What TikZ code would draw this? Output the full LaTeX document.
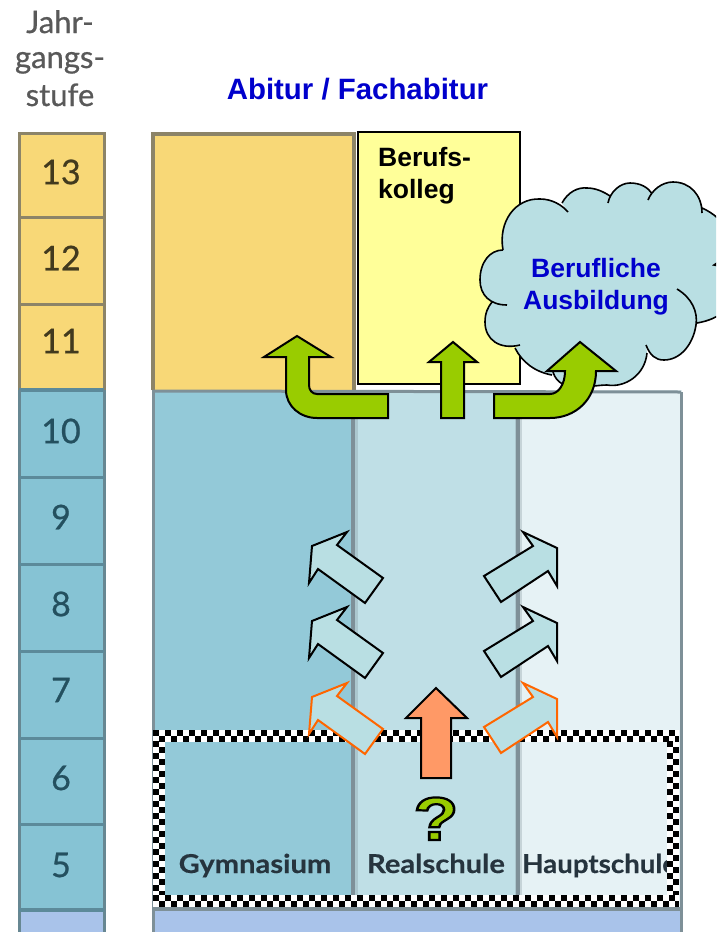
\documentclass[tikz,border=0pt]{standalone}
\usepackage{fontspec}
\setmainfont{Liberation Sans}
\newfontfamily\scanfont[FakeBold=0.7]{Lato}
\newfontfamily\schoolfont[FakeBold=0.4]{Lato Bold}
\definecolor{gold}{HTML}{F8D877}
\definecolor{goldedge}{HTML}{8C8468}
\definecolor{gymblue}{HTML}{93C9D8}
\definecolor{stepblue}{HTML}{86C3D4}
\definecolor{stepedge}{HTML}{5C8A9A}
\definecolor{realblue}{HTML}{BFDFE6}
\definecolor{hauptblue}{HTML}{E6F2F5}
\definecolor{baseblue}{HTML}{A9C3EA}
\definecolor{panelgrey}{HTML}{7E9098}
\definecolor{kolleg}{HTML}{FFFF99}
\definecolor{cloudfill}{HTML}{B9DFE3}
\definecolor{headblue}{HTML}{0000CC}
\definecolor{leaf}{HTML}{99CC00}
\definecolor{orangeedge}{HTML}{FF6600}
\definecolor{orangefill}{HTML}{FF9966}
\definecolor{gradeink}{HTML}{24505F}
\definecolor{goldink}{HTML}{423A1E}
\definecolor{labelink}{HTML}{26343E}
\newcommand{\sz}[1]{\fontsize{#1}{#1}\selectfont}
\tikzset{
  x=1pt,y=-1pt,
  grade/.style={font=\scanfont\sz{34},anchor=center,inner sep=0pt},
  school/.style={font=\schoolfont\sz{26},text=labelink,anchor=base,inner sep=0pt,xscale=1.12},
  yearhead/.style={font=\scanfont\sz{31},text=black!65,anchor=base,inner sep=0pt},
  greenarrow/.style={draw=black,fill=leaf,line width=2pt,line join=miter},
  lightarrow/.style={draw=black,fill=cloudfill,line width=2pt,line join=miter},
  warnarrow/.style={draw=orangeedge,fill=cloudfill,line width=2pt,line join=miter},
  checkrow/.style={line width=6pt,dash pattern=on 6pt off 6pt,black},
  softline/.style={draw=panelgrey,line width=3.5pt},
  softhalo/.style={draw=panelgrey,line width=7pt,opacity=.3},
}
\newcommand{\leftlight}[1]{(383,578+#1) -- (365,603+#1) -- (318,569+#1) -- (309,583+#1) -- (312,546+#1) -- (347,532+#1) -- (337,545+#1) -- cycle}
\newcommand{\rightlight}[1]{(484,576+#1) -- (501,602+#1) -- (548,571+#1) -- (557,586+#1) -- (557,548+#1) -- (523,532+#1) -- (533,546+#1) -- cycle}
\begin{document}
\begin{tikzpicture}
\clip (0,0) rectangle (716,932);
\fill[white] (0,0) rectangle (716,932);
% year column
\fill[gold] (18,132) rectangle (104,390);
\fill[stepblue] (18,390) rectangle (104,910);
\fill[baseblue] (18,910) rectangle (104,932);
\draw[goldedge,line width=3pt] (104,390) -- (104,133) -- (19,133) -- (19,390);
\draw[goldedge,line width=3pt] (19,217) -- (104,217) (19,304) -- (104,304);
\draw[stepedge,line width=3.5pt] (19,390) -- (104,390);
\draw[stepedge!70!gray,line width=3pt] (19,390) -- (19,932) (104,390) -- (104,932);
\foreach \yy in {477,564,651,738,824} \draw[stepedge,line width=3pt] (19,\yy) -- (104,\yy);
\draw[stepedge,line width=3.5pt] (19,910) -- (104,910);
% main panels
\fill[gold] (152,132) rectangle (355,390);
\fill[gymblue] (152,390) rectangle (354,910);
\fill[realblue] (354,390) rectangle (518,910);
\fill[hauptblue] (518,390) rectangle (682,910);
\fill[baseblue] (152,910) rectangle (682,932);
\draw[goldedge,line width=4pt] (153,390) -- (153,134) -- (354,134) -- (354,390);
\draw[softhalo] (354,390) -- (354,910) (518,392) -- (518,910);
\draw[softline] (353,390) -- (353,910) (518,392) -- (518,910);
\draw[panelgrey,line width=3pt] (153,390) -- (153,932) (681,392) -- (681,932);
\draw[panelgrey,line width=3pt] (153,391) -- (681,392);
\draw[panelgrey,line width=4pt] (153,909) -- (681,909);
% school names, partly under the dotted frame
\node[school] (gym) at (255,873) {Gymnasium};
\node[school] (real) at (436,873) {Realschule};
\node[school,anchor=base west,xscale=.95] (haupt) at (522,873) {Hauptschule};
% year labels
\node[yearhead] (j1) at (60,33) {Jahr-};
\node[yearhead] (j2) at (60,68) {gangs-};
\node[yearhead] (j3) at (60,106) {stufe};
\node[grade,text=goldink] (g13) at (61,172) {13};
\node[grade,text=goldink] (g12) at (61,258) {12};
\node[grade,text=goldink] (g11) at (61,341) {11};
\node[grade,text=gradeink] (g10) at (61,431) {10};
\node[grade,text=gradeink] (g9) at (61,517) {9};
\node[grade,text=gradeink] (g8) at (61,604) {8};
\node[grade,text=gradeink] (g7) at (61,690) {7};
\node[grade,text=gradeink] (g6) at (61,778) {6};
\node[grade,text=gradeink] (g5) at (61,865) {5};
% heading
\node[font=\bfseries\sz{29.4},text=headblue,anchor=base,inner sep=0pt] (abi) at (357.5,99) {Abitur / Fachabitur};
% Berufskolleg
\draw[black,fill=kolleg,line width=2pt] (358,132) rectangle (520,384);
\node[font=\bfseries\sz{26.5},anchor=base west,inner sep=0pt] (bk1) at (378,166) {Berufs-};
\node[font=\bfseries\sz{26.5},anchor=base west,inner sep=0pt] (bk2) at (378,198) {kolleg};
% cloud
\fill[cloudfill]
  (503,250) .. controls (498,222) and (515,198) .. (540,199) .. controls (552,199) and (562,205) .. (568,212)
  -- (562,203) .. controls (568,192) and (578,187) .. (587,188) .. controls (596,188) and (604,192) .. (610,196)
  -- (608,203) .. controls (610,192) and (620,183) .. (630,183) .. controls (640,183) and (648,187) .. (652,194)
  -- (648,200) .. controls (652,190) and (662,182) .. (673,182) .. controls (690,182) and (702,195) .. (702,213)
  -- (702,208) .. controls (725,218) and (745,245) .. (714,265)
  .. controls (745,270) and (745,315) .. (697,323)
  -- (677,289) .. controls (692,298) and (698,312) .. (696,325) .. controls (693,345) and (680,360) .. (664,360) .. controls (655,360) and (650,355) .. (646,345)
  -- (647,353) .. controls (645,375) and (625,388) .. (607,385) .. controls (590,385) and (560,395) .. (553,372)
  -- (552,375) .. controls (535,372) and (522,362) .. (515,348)
  -- (520,345) .. controls (500,350) and (485,340) .. (485,322) .. controls (485,313) and (488,307) .. (492,302)
  -- (507,305) .. controls (490,305) and (480,295) .. (480,280) .. controls (480,262) and (490,250) .. (503,250) -- cycle;
\draw[black,line width=1.6pt]
  (503,250) .. controls (498,222) and (515,198) .. (540,199) .. controls (552,199) and (562,205) .. (568,212)
  (562,203) .. controls (568,192) and (578,187) .. (587,188) .. controls (596,188) and (604,192) .. (610,196)
  (608,203) .. controls (610,192) and (620,183) .. (630,183) .. controls (640,183) and (648,187) .. (652,194)
  (648,200) .. controls (652,190) and (662,182) .. (673,182) .. controls (690,182) and (702,195) .. (702,213)
  (702,208) .. controls (725,218) and (745,245) .. (714,265)
  .. controls (745,270) and (745,315) .. (697,323)
  (677,289) .. controls (692,298) and (698,312) .. (696,325) .. controls (693,345) and (680,360) .. (664,360) .. controls (655,360) and (650,355) .. (646,345)
  (647,353) .. controls (645,375) and (625,388) .. (607,385) .. controls (590,385) and (560,395) .. (553,372)
  (552,375) .. controls (535,372) and (522,362) .. (515,348)
  (520,345) .. controls (500,350) and (485,340) .. (485,322) .. controls (485,313) and (488,307) .. (492,302)
  (507,305) .. controls (490,305) and (480,295) .. (480,280) .. controls (480,262) and (490,250) .. (503,250);
\node[font=\bfseries\sz{26.5},text=headblue,anchor=base,inner sep=0pt] (ba1) at (596,277) {Berufliche};
\node[font=\bfseries\sz{26.5},text=headblue,anchor=base,inner sep=0pt] (ba2) at (596,309) {Ausbildung};
% dotted frame
\draw[white,line width=12pt] (159,735.5) rectangle (673,901);
\foreach \ya/\off in {732.5/0,738.5/6,898/0,904/6}
  \draw[checkrow,dash phase=\off pt] (153,\ya) -- (679,\ya);
\foreach \xa/\off in {156/0,162/6,670/0,676/6}
  \draw[checkrow,dash phase=\off pt] (\xa,741) -- (\xa,895);
% green arrows
\draw[greenarrow] (388,394) -- (317,394) .. controls (312,394) and (309,390) .. (309,385) -- (309,357) -- (331,357) -- (297,336) -- (264,357) -- (286,357) -- (286,390) .. controls (286,406) and (300,418) .. (317,418) -- (388,418) -- cycle;
\draw[greenarrow] (441,418) -- (441,362) -- (429,362) -- (453,342) -- (477,362) -- (464,362) -- (464,418) -- cycle;
\draw[greenarrow] (494,394) -- (550,394) .. controls (558,394) and (565,385) .. (565,371) -- (547,371) -- (580,342) -- (616,371) -- (596,371) .. controls (596,400) and (575,418) .. (550,418) -- (494,418) -- cycle;
% small arrows
\draw[lightarrow] \leftlight{0};
\draw[lightarrow] \leftlight{75};
\draw[warnarrow] \leftlight{151};
\draw[lightarrow] \rightlight{0};
\draw[lightarrow] \rightlight{75};
\draw[warnarrow] \rightlight{151};
\draw[black,fill=orangefill,line width=2pt] (421,778) -- (421,718) -- (406,718) -- (436,688) -- (467,718) -- (451,718) -- (451,778) -- cycle;
% question mark
\node[font=\bfseries\sz{61},text=leaf,anchor=base,inner sep=0pt,xscale=1.2] (q) at (436,840) {\special{pdf:code 2 Tr 2.2 w 0 0 0 RG}?\special{pdf:code 0 Tr}};
\end{tikzpicture}
\end{document}
